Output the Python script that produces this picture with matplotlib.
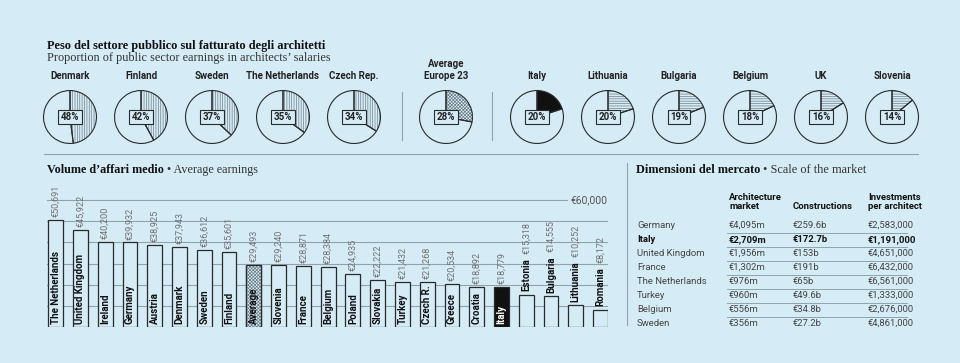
import matplotlib
matplotlib.use('Agg')
import matplotlib.pyplot as plt
from matplotlib import transforms
import numpy as np

# ---- data ----
pie_countries = ['Denmark', 'Finland', 'Sweden', 'The Netherlands', 'Czech Rep.',
                 'Average\nEurope 23',
                 'Italy', 'Lithuania', 'Bulgaria', 'Belgium', 'UK', 'Slovenia']
pie_share = [48, 42, 37, 35, 34, 28, 20, 20, 19, 18, 16, 14]

bar_countries = ['The Netherlands', 'United Kingdom', 'Ireland', 'Germany', 'Austria',
                 'Denmark', 'Sweden', 'Finland', 'Average', 'Slovenia', 'France',
                 'Belgium', 'Poland', 'Slovakia', 'Turkey', 'Czech R.', 'Greece',
                 'Croatia', 'Italy', 'Estonia', 'Bulgaria', 'Lithuania', 'Romania']
bar_earnings = [50691, 45922, 40200, 39932, 38925, 37943, 36612, 35601, 29493, 29240,
                28871, 28384, 24935, 22222, 21432, 21268, 20534, 18892, 18779, 15318,
                14555, 10252, 8172]

table_header = ['Architecture\nmarket', 'Constructions', 'Investments\nper architect']
table_countries = ['Germany', 'Italy', 'United Kingdom', 'France', 'The Netherlands',
                   'Turkey', 'Belgium', 'Sweden']
table_arch = ['€4,095m', '€2,709m', '€1,956m', '€1,302m', '€976m', '€960m', '€556m', '€356m']
table_constr = ['€259.6b', '€172.7b', '€153b', '€191b', '€65b', '€49.6b', '€34.8b', '€27.2b']
table_invest = ['€2,583,000', '€1,191,000', '€4,651,000', '€6,432,000', '€6,561,000',
                '€1,333,000', '€2,676,000', '€4,861,000']

# ---- style ----
W, H = 960, 363
BG = '#d5ecf7'
INK = '#2a2a2a'
HATCH = '#6f7f88'
GRID = '#8fa3ad'
SANS = 'Roboto'
SERIF = 'Liberation Serif'
plt.rcParams['hatch.linewidth'] = 0.5

fig = plt.figure(figsize=(W / 100, H / 100), dpi=100, facecolor=BG)

# overlay in pixel coordinates for texts and rules
ov = fig.add_axes([0, 0, 1, 1], zorder=0)
ov.set_xlim(0, W)
ov.set_ylim(H, 0)
ov.axis('off')


def box(x0, y0, x1, y1):
    return [x0 / W, 1 - y1 / H, (x1 - x0) / W, (y1 - y0) / H]


def two_part(x, y, bold, rest, size):
    t = ov.text(x, y, bold, family=SERIF, weight='bold', size=size, color='#111111', va='baseline')
    r = fig.canvas.get_renderer()
    x1 = ov.transData.inverted().transform((t.get_window_extent(r).x1, 0))[0]
    ov.text(x1, y, rest, family=SERIF, size=size, color='#333333', va='baseline')


# ---- top section: pies ----
ov.text(47, 48.5, 'Peso del settore pubblico sul fatturato degli architetti',
        family=SERIF, weight='bold', size=8.8, color='#111111', va='baseline')
ov.text(47, 61, 'Proportion of public sector earnings in architects\u2019 salaries',
        family=SERIF, size=8.8, color='#333333', va='baseline')

for i, (name, share) in enumerate(zip(pie_countries, pie_share)):
    if i < 5:
        cx = 70 + 71 * i
        fill, hatch = BG, '|||||||'
    elif i == 5:
        cx = 446
        fill, hatch = BG, 'xxxxxxxxxx'
    else:
        cx = 537 + 71 * (i - 6)
        fill, hatch = BG, '-------'
    if name == 'Italy':
        fill, hatch = '#111111', None
    cy = 117
    pax = fig.add_axes(box(cx - 27, cy - 27, cx + 27, cy + 27), zorder=2)
    # hatched fill first, then the outlines on top
    pax.pie([share, 100 - share], startangle=90, counterclock=False,
            colors=[fill, BG], hatch=[hatch, None],
            wedgeprops=dict(edgecolor=HATCH, linewidth=0))
    pax.pie([share, 100 - share], startangle=90, counterclock=False,
            colors=['none', 'none'],
            wedgeprops=dict(edgecolor=INK, linewidth=0.8))
    pax.set_xlim(-1.02, 1.02)
    pax.set_ylim(-1.02, 1.02)
    pax.text(0, 0, f'{share}%', ha='center', va='center', family=SANS, weight='bold',
             size=7, color='#222222',
             bbox=dict(boxstyle='square,pad=0.25', fc=BG, ec=INK, lw=0.8))
    ov.text(cx, 81, name, ha='center', va='bottom', family=SANS, weight='bold',
            size=7, color='#222222', linespacing=1.2)

ov.plot([402, 402], [92, 140], color=GRID, lw=0.8)
ov.plot([492, 492], [92, 140], color=GRID, lw=0.8)
ov.plot([44, 918], [154, 154], color=GRID, lw=0.8)

# ---- bar chart ----
two_part(47, 173, 'Volume d\u2019affari medio', ' \u2022 Average earnings', 8.7)

bx = fig.add_axes(box(47, 200, 608, 327), zorder=2)
bx.set_facecolor('none')
bx.axis('off')
n = len(bar_countries)
idx = np.arange(n)
bx.set_xlim(-0.35, n - 1 + 0.3)
bx.set_ylim(0, 60000)
for yv in range(10000, 60000, 10000):
    bx.axhline(yv, color=GRID, lw=0.8, zorder=0)
bx.axhline(60000, xmax=(567 - 47) / (608 - 47), color=GRID, lw=0.8, zorder=0, clip_on=False)
tr = transforms.blended_transform_factory(bx.transAxes, bx.transData)
bx.text(1.0, 60000, '€60,000', transform=tr, ha='right', va='center',
        family=SANS, size=7.5, color='#555555')

colors = ['#111111' if c == 'Italy' else BG for c in bar_countries]
bx.bar(idx, bar_earnings, width=0.6, color=colors, edgecolor=INK,
       linewidth=0.9, zorder=2)
ai = bar_countries.index('Average')
bx.bar(ai, bar_earnings[ai], width=0.6, color=BG, edgecolor=HATCH,
       hatch='xxxxxxxxxx', linewidth=0, zorder=2.1)
bx.bar(ai, bar_earnings[ai], width=0.6, color='none', edgecolor=INK,
       linewidth=0.9, zorder=2.2)

r = fig.canvas.get_renderer()
for i, (name, v) in enumerate(zip(bar_countries, bar_earnings)):
    tc = 'white' if name == 'Italy' else '#111111'
    nt = bx.annotate(name, xy=(i, 0), xytext=(0, 2.5), textcoords='offset points',
                     rotation=90, ha='center', va='bottom', family=SANS, weight='bold',
                     size=7, color=tc, zorder=3)
    top = bx.transData.transform((i, v))[1]
    if nt.get_window_extent(r).y1 > top - 2:
        nt.xy = (i, v)
        nt.set_color('#111111')
        bx.annotate(f'€{v:,}', xy=(0.5, 1), xycoords=nt, xytext=(0, 3),
                    textcoords='offset points', rotation=90, ha='center', va='bottom',
                    family=SANS, size=6.5, color='#707070')
    else:
        bx.annotate(f'€{v:,}', xy=(i, v), xytext=(0, 2), textcoords='offset points',
                    rotation=90, ha='center', va='bottom', family=SANS,
                    size=6.5, color='#707070', annotation_clip=False)

# ---- table ----
ov.plot([627, 627], [163, 325], color=GRID, lw=0.8)
two_part(636, 173, 'Dimensioni del mercato', ' \u2022 Scale of the market', 8.8)

col_x = [729, 793, 868]
for x, h in zip(col_x, table_header):
    ov.text(x, 211, h, ha='left', va='bottom', family=SANS, weight='bold', size=6.8,
            color='#111111', linespacing=1.05)

for i, row in enumerate(zip(table_countries, table_arch, table_constr, table_invest)):
    y = 225.5 + 14 * i
    bold = row[0] == 'Italy'
    color = '#111111' if bold else '#444444'
    for x, val in zip([637] + col_x, row):
        ov.text(x, y, val, ha='left', va='center', family=SANS, size=6.8,
                weight='bold' if bold else 'normal', color=color)
    if i < len(table_countries) - 1:
        ov.plot([727, 907], [y + 7, y + 7], color=GRID, lw=0.7)

fig.savefig('out.png', dpi=100, facecolor=BG)
